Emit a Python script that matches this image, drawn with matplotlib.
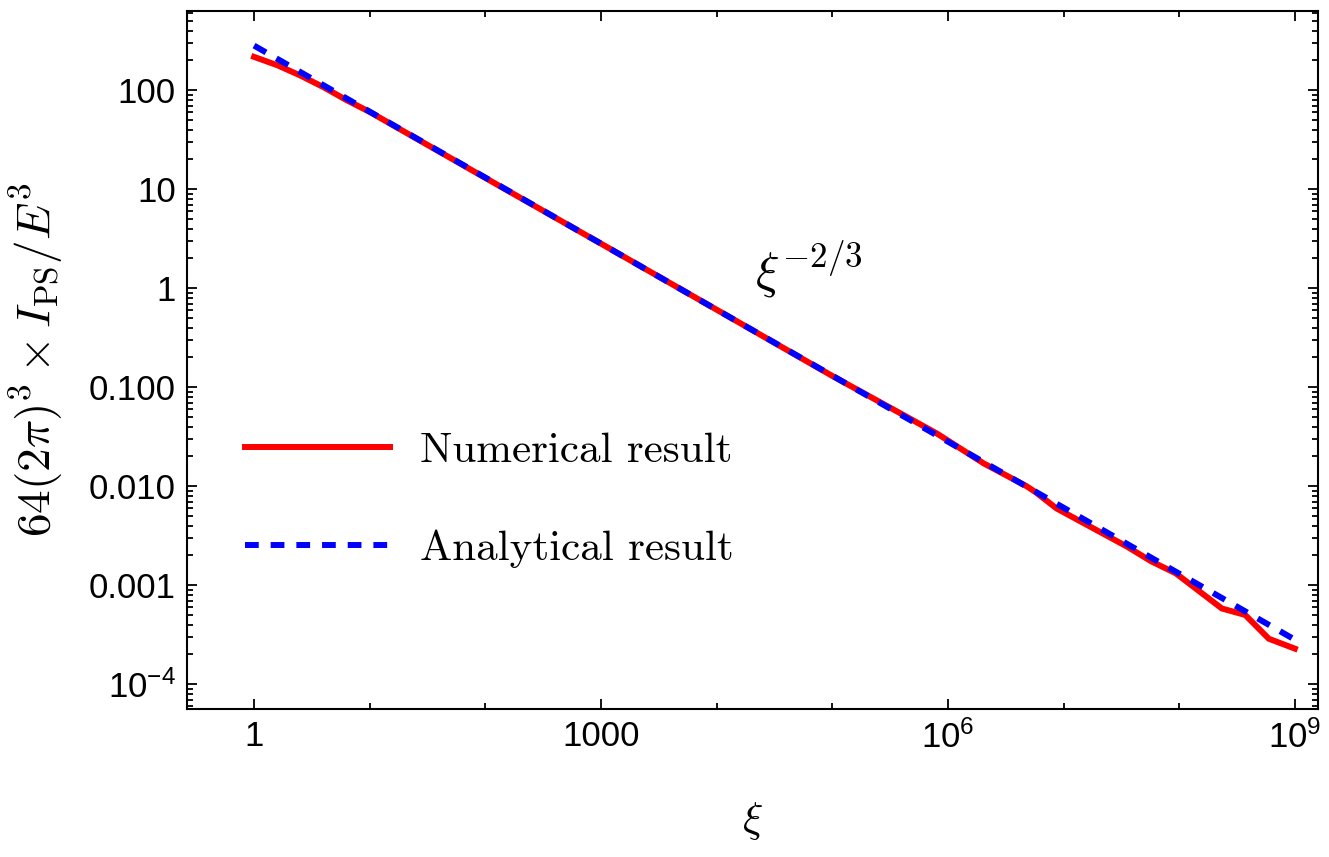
import matplotlib
matplotlib.use("Agg")
import matplotlib.pyplot as plt
from matplotlib.ticker import FixedLocator, FixedFormatter, NullFormatter

plt.rcParams['font.family'] = 'Liberation Sans'
plt.rcParams['mathtext.fontset'] = 'custom'
plt.rcParams['mathtext.rm'] = 'Liberation Sans'
plt.rcParams['mathtext.it'] = 'Liberation Sans:italic'
plt.rcParams['mathtext.bf'] = 'Liberation Sans:bold'

# numerical result
xi_num = [1, 1.6, 2.5, 4.0, 6.3, 10, 100, 1e3, 1e4, 1e5, 3.87e5, 8.05e5, 2.04e6,
          4.79e6, 5.70e6, 8.71e6, 3.55e7, 5.75e7, 9.33e7, 2.34e8, 3.72e8, 5.96e8, 1e9]
I_num = [217, 178, 141, 107, 79.4, 60.3, 13.0, 2.82, 0.607, 0.130, 0.0546, 0.0340, 0.0170,
         0.0100, 0.00875, 0.00596, 0.00245, 0.00174, 0.00132, 5.82e-4, 5.01e-4, 2.88e-4, 2.29e-4]

# analytical result ~ xi^(-2/3)
xi_ana = [1, 10, 100, 1e3, 1e4, 1e5, 1e6, 1e7, 1e8, 1e9]
I_ana = [282, 60.7, 13.1, 2.82, 0.607, 0.131, 0.0282, 0.00607, 0.00131, 2.82e-4]

x_major = [1, 1e3, 1e6, 1e9]
x_labels = ['1', '1000', r'$10^6$', r'$10^9$']
x_minor = [10, 100, 1e4, 1e5, 1e7, 1e8]
y_major = [1e-4, 1e-3, 1e-2, 1e-1, 1, 10, 100]
y_labels = [r'$10^{-4}$', '0.001', '0.010', '0.100', '1', '10', '100']
y_minor = [m * 10.0**k for k in range(-5, 3) for m in range(2, 10)]

fig = plt.figure(figsize=(13.29, 8.57), dpi=100)
ax = fig.add_axes([0.1407, 0.1727, 0.851, 0.8145])

ax.plot(xi_num, I_num, color='#ff0000', lw=4.3, solid_joinstyle='miter',
        label='Numerical result')
ax.plot(xi_ana, I_ana, color='#0000ff', lw=4.3, ls=(0, (2.3, 2.0)),
        dash_capstyle='butt', label='Analytical result')

ax.set_xscale('log')
ax.set_yscale('log')
ax.set_xlim(10**-0.58, 10**9.2)
ax.set_ylim(10**-4.25, 10**2.8)

ax.xaxis.set_major_locator(FixedLocator(x_major))
ax.xaxis.set_major_formatter(FixedFormatter(x_labels))
ax.xaxis.set_minor_locator(FixedLocator(x_minor))
ax.xaxis.set_minor_formatter(NullFormatter())
ax.yaxis.set_major_locator(FixedLocator(y_major))
ax.yaxis.set_major_formatter(FixedFormatter(y_labels))
ax.yaxis.set_minor_locator(FixedLocator(y_minor))
ax.yaxis.set_minor_formatter(NullFormatter())

ax.tick_params(which='both', direction='in', top=True, right=True, width=1.3,
               labelsize=25)
ax.tick_params(which='major', length=7, pad=8)
ax.tick_params(which='minor', length=4.3)
for s in ax.spines.values():
    s.set_linewidth(1.5)

ax.set_xlabel(r'$\xi$', fontsize=31, math_fontfamily='cm')
ax.set_ylabel(r'$64(2\pi)^3\times I_{\rm PS}/E^3$', fontsize=34, math_fontfamily='cm')
ax.xaxis.set_label_coords(0.5, -0.13)
ax.yaxis.set_label_coords(-0.108, 0.5)

ax.text(10**4.33, 10**0.19, r'$\xi^{-2/3}$', fontsize=36, math_fontfamily='cm',
        ha='left', va='center')

ax.legend(loc='upper left', bbox_to_anchor=(0.051, 0.397), frameon=False,
          prop={'family': 'cmr10', 'size': 31}, handlelength=3.37,
          handletextpad=0.7, labelspacing=1.38, borderpad=0, borderaxespad=0)

fig.savefig('out.png', dpi=100)
